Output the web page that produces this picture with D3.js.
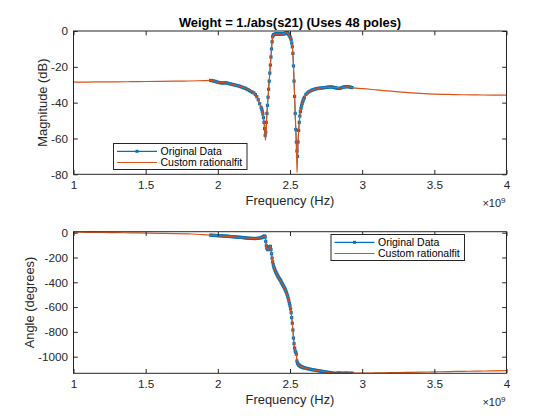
<!DOCTYPE html>
<html>
<head>
<meta charset="utf-8">
<script src="https://cdn.jsdelivr.net/npm/d3@7"></script>
<style>
  html, body { margin: 0; padding: 0; background: #fff; }
  svg { display: block; font-family: "Liberation Sans", Arial, Helvetica, sans-serif; }
</style>
</head>
<body>
<svg id="chart" width="560" height="420"></svg>
<script>
// ---------- DATA (frequency in GHz, i.e. ×10^9 Hz) ----------
const origFreq = [
  1.95,1.96,1.97,1.98,1.99,2.00,2.01,2.02,2.03,2.04,2.05,2.06,2.07,2.08,2.09,2.10,2.11,2.12,
  2.13,2.14,2.15,2.16,2.17,2.18,2.19,2.20,2.21,2.22,2.23,2.24,2.25,2.26,2.27,2.28,2.29,2.30,
  2.304,2.308,2.312,2.316,2.320,2.324,2.328,2.332,2.336,2.340,2.344,2.348,2.352,2.356,2.360,
  2.364,2.368,2.372,2.376,2.380,2.384,2.388,2.392,2.396,2.400,2.404,2.408,2.412,2.416,2.420,
  2.424,2.428,2.432,2.436,2.440,2.444,2.448,2.452,2.456,2.460,2.464,2.468,2.472,2.476,2.480,
  2.484,2.488,2.492,2.496,2.500,2.504,2.508,2.512,2.516,2.520,2.524,2.528,2.532,2.536,2.540,
  2.544,2.548,2.552,2.556,2.560,2.564,2.568,2.572,2.576,2.580,2.584,2.588,2.592,2.596,2.600,
  2.61,2.62,2.63,2.64,2.65,2.66,2.67,2.68,2.69,2.70,2.71,2.72,2.73,2.74,2.75,2.76,2.77,2.78,
  2.79,2.80,2.81,2.82,2.83,2.84,2.85,2.86,2.87,2.88,2.89,2.90,2.91,2.92,2.93
];
const origMag = [
  -27.6,-27.7,-27.9,-28.1,-28.4,-28.6,-28.8,-28.9,-29.0,-29.0,-28.9,-29.0,-29.2,-29.4,-29.6,-29.8,-30.0,-30.2,
  -30.4,-30.6,-30.8,-31.1,-31.4,-31.7,-32.0,-32.4,-32.8,-33.3,-33.8,-34.2,-34.6,-35.5,-36.7,-38.4,-40.6,-42.6,
  -43.6,-44.8,-46.3,-48.4,-51.0,-54.5,-58.2,-56.5,-51.0,-46.0,-41.5,-37.0,-32.5,-28.0,-23.5,
  -19.0,-14.5,-10.0,-6.0,-3.2,-2.3,-2.0,-1.9,-1.8,-1.7,-1.7,-1.6,-1.6,-1.7,-1.7,
  -1.6,-1.6,-1.5,-1.6,-1.7,-1.6,-1.5,-1.5,-1.6,-1.5,-1.4,-1.3,-1.0,-0.7,-0.9,
  -1.3,-1.6,-2.0,-2.6,-3.2,-3.9,-5.0,-6.8,-8.8,-12.5,-19.5,-28.0,-36.5,-46.0,-55.0,
  -62.0,-67.0,-70.0,-62.0,-55.5,-51.0,-47.5,-45.0,-43.2,-41.8,-40.6,-39.5,-38.5,-37.7,-37.0,
  -35.4,-34.6,-34.0,-33.5,-33.1,-32.8,-32.5,-32.3,-32.1,-32.0,-31.9,-31.8,-31.7,-31.6,-31.5,-31.4,-31.3,-31.2,
  -31.3,-31.4,-31.6,-31.8,-32.0,-32.1,-31.9,-31.6,-31.3,-31.2,-31.1,-31.1,-31.2,-31.4,-31.6
];
const origAngle = [
  -20,-21,-22,-22,-23,-24,-25,-25,-26,-27,-27,-28,-29,-30,-31,-32,-33,-34,
  -35,-36,-37,-38,-39,-40,-42,-43,-44,-45,-46,-46,-47,-47,-46,-45,-43,-41,
  -39,-37,-35,-32,-29,-27,-35,-70,-105,-125,-133,-137,-135,-125,-112,
  -110,-135,-170,-205,-235,-258,-276,-290,-302,-313,-323,-333,-342,-351,-359,
  -367,-374,-381,-388,-400,-408,-416,-425,-434,-443,-452,-462,-472,-484,-498,
  -514,-531,-550,-570,-590,-615,-645,-685,-730,-785,-850,-895,-930,-955,-965,
  -980,-1035,-1052,-1060,-1066,-1070,-1074,-1077,-1080,-1082,-1084,-1086,-1088,-1089,-1090,
  -1093,-1096,-1099,-1101,-1104,-1106,-1108,-1110,-1112,-1114,-1116,-1118,-1120,-1122,-1124,-1126,-1127,-1129,
  -1131,-1133,-1134,-1134,-1132,-1131,-1133,-1134,-1134,-1133,-1132,-1133,-1134,-1134,-1133
];

const fitFreq = [
  1.00,1.10,1.20,1.30,1.40,1.50,1.60,1.70,1.80,1.90,1.95,2.00,2.05,2.10,2.15,2.20,2.25,2.28,2.30,2.31,
  2.32,2.326,2.330,2.334,2.340,2.348,2.356,2.364,2.372,2.380,2.390,2.40,2.42,2.44,2.46,2.476,2.49,2.50,
  2.51,2.52,2.53,2.54,2.546,2.549,2.552,2.558,2.57,2.58,2.60,2.63,2.66,2.70,2.75,2.80,2.85,2.90,2.93,
  3.00,3.10,3.20,3.30,3.40,3.50,3.60,3.70,3.80,3.90,4.00
];
const fitMag = [
  -28.5,-28.5,-28.4,-28.4,-28.3,-28.2,-28.1,-28.0,-27.9,-27.7,-27.6,-28.6,-28.9,-29.8,-30.8,-32.4,-34.6,-38.4,-42.6,-45.5,
  -51.0,-57.0,-61.0,-57.0,-46.0,-37.0,-28.0,-19.0,-10.0,-3.2,-2.0,-1.7,-1.7,-1.7,-1.5,-0.7,-1.8,-3.2,
  -5.8,-12.5,-32.0,-55.0,-70.0,-79.0,-70.0,-58.0,-46.0,-41.8,-37.0,-34.0,-32.8,-32.0,-31.5,-31.4,-31.9,-31.1,-31.6,
  -32.2,-32.9,-33.6,-34.3,-34.8,-35.2,-35.4,-35.6,-35.7,-35.8,-35.8
];
const fitAngle = [
  4,3,2,0,-1,-3,-5,-7,-10,-15,-20,-24,-27,-32,-37,-43,-47,-45,-41,-36,
  -29,-27,-45,-90,-125,-137,-125,-110,-170,-235,-283,-313,-359,-400,-443,-484,-540,-590,
  -665,-785,-915,-965,-1000,-1040,-1052,-1063,-1075,-1082,-1090,-1099,-1106,-1114,-1124,-1133,-1133,-1133,-1133,
  -1133,-1131,-1129,-1127,-1125,-1122,-1120,-1118,-1116,-1115,-1113
];

const xTicks = [1, 1.5, 2, 2.5, 3, 3.5, 4];
const magTicks = [-80, -60, -40, -20, 0];
const angTicks = [-1000, -800, -600, -400, -200, 0];
const seriesNames = ["Original Data", "Custom rationalfit"];
const titleText = "Weight = 1./abs(s21) (Uses 48 poles)";

// ---------- DRAWING ----------
const BLUE = "#0072BD", ORANGE = "#D95319", AX = "#262626";
const svg = d3.select("#chart");
const L = 73.5, R = 506.5;
const x = d3.scaleLinear().domain([1, 4]).range([L, R]);

const panels = [
  { top: 31, bottom: 174.3, domain: [-80, 0], ticks: magTicks, yVals: origMag, fitVals: fitMag,
    ylabel: "Magnitude (dB)", ylabelX: 42, legend: { x: 113.5, y: 143.5 } },
  { top: 231.7, bottom: 373.3, domain: [-1134, 8], ticks: angTicks, yVals: origAngle, fitVals: fitAngle,
    ylabel: "Angle (degrees)", ylabelX: 29, legend: { x: 331, y: 234.5 } }
];

panels.forEach((p, i) => {
  const y = d3.scaleLinear().domain(p.domain).range([p.bottom, p.top]);
  const g = svg.append("g");
  const clipId = "clip" + i;
  svg.append("clipPath").attr("id", clipId).append("rect")
    .attr("x", L).attr("y", p.top).attr("width", R - L).attr("height", p.bottom - p.top);

  const plot = g.append("g").attr("clip-path", `url(#${clipId})`);
  const data = origFreq.map((f, k) => ({ f, v: p.yVals[k] }));
  const fit = fitFreq.map((f, k) => ({ f, v: p.fitVals[k] }));

  plot.append("path").datum(data)
    .attr("d", d3.line().x(d => x(d.f)).y(d => y(d.v)))
    .attr("fill", "none").attr("stroke", BLUE).attr("stroke-width", 1);
  plot.selectAll("rect.pt").data(data).enter().append("rect")
    .attr("class", "pt")
    .attr("x", d => x(d.f) - 1.6).attr("y", d => y(d.v) - 1.6)
    .attr("width", 3.2).attr("height", 3.2).attr("fill", BLUE);
  plot.append("path").datum(fit)
    .attr("d", d3.line().curve(d3.curveMonotoneX).x(d => x(d.f)).y(d => y(d.v)))
    .attr("fill", "none").attr("stroke", ORANGE).attr("stroke-width", 1.2);

  const fmt = d => String(d);
  const styleAxis = sel => {
    sel.select(".domain").remove();
    sel.selectAll("line").attr("stroke", AX);
    sel.selectAll("text").attr("fill", AX).style("font-size", "11.7px")
      .style("font-family", '"Liberation Sans", Arial, sans-serif');
  };
  g.append("g").attr("transform", `translate(0,${p.bottom})`)
    .call(d3.axisBottom(x).tickValues(xTicks).tickFormat(fmt).tickSizeInner(-4.3).tickSizeOuter(0).tickPadding(6.5))
    .call(styleAxis);
  g.append("g").attr("transform", `translate(0,${p.top})`)
    .call(d3.axisTop(x).tickValues(xTicks).tickFormat("").tickSizeInner(-4.3).tickSizeOuter(0))
    .call(styleAxis);
  g.append("g").attr("transform", `translate(${L},0)`)
    .call(d3.axisLeft(y).tickValues(p.ticks).tickFormat(fmt).tickSizeInner(-4.3).tickSizeOuter(0).tickPadding(5.5))
    .call(styleAxis);
  g.append("g").attr("transform", `translate(${R},0)`)
    .call(d3.axisRight(y).tickValues(p.ticks).tickFormat("").tickSizeInner(-4.3).tickSizeOuter(0))
    .call(styleAxis);

  g.append("rect").attr("x", L).attr("y", p.top).attr("width", R - L).attr("height", p.bottom - p.top)
    .attr("fill", "none").attr("stroke", AX).attr("stroke-width", 1);

  // axis labels
  g.append("text").attr("x", (L + R) / 2).attr("y", p.bottom + 31)
    .attr("text-anchor", "middle").attr("fill", AX).style("font-size", "12.9px")
    .text("Frequency (Hz)");
  g.append("text").attr("transform", `translate(${p.ylabelX},${(p.top + p.bottom) / 2}) rotate(-90)`)
    .attr("text-anchor", "middle").attr("dy", "0.35em").attr("fill", AX).style("font-size", "12.9px")
    .text(p.ylabel);
  const ex = g.append("text").attr("x", R - 1).attr("y", p.bottom + 33)
    .attr("text-anchor", "end").attr("fill", AX).style("font-size", "11px");
  ex.append("tspan").text("×10");
  ex.append("tspan").attr("dy", -4).style("font-size", "8px").text("9");

  // legend
  const lg = g.append("g").attr("transform", `translate(${p.legend.x},${p.legend.y})`);
  lg.append("rect").attr("width", 133.5).attr("height", 26).attr("fill", "#fff")
    .attr("stroke", AX).attr("stroke-width", 1);
  seriesNames.forEach((name, k) => {
    const yy = 7.8 + k * 11.2;
    lg.append("line").attr("x1", 3.5).attr("x2", 43.5).attr("y1", yy).attr("y2", yy)
      .attr("stroke", k === 0 ? BLUE : ORANGE).attr("stroke-width", 1.2);
    if (k === 0) lg.append("rect").attr("x", 22).attr("y", yy - 1.5).attr("width", 3).attr("height", 3).attr("fill", BLUE);
    lg.append("text").attr("x", 47).attr("y", yy).attr("dy", "0.35em").attr("fill", "#000")
      .style("font-size", "10.5px").text(name);
  });
});

svg.append("text").attr("x", (L + R) / 2).attr("y", 27)
  .attr("text-anchor", "middle").attr("fill", "#000").style("font-size", "12.9px").style("font-weight", "bold")
  .text(titleText);
</script>
</body>
</html>
